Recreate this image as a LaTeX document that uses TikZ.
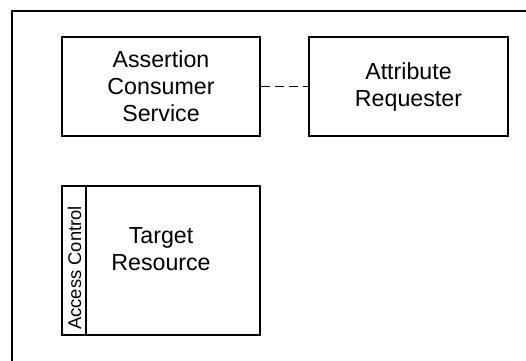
\documentclass[tikz,border=0pt]{standalone}
\usepackage{fontspec}
\setmainfont{Liberation Sans}
\begin{document}
\begin{tikzpicture}[x=0.5pt, y=-0.5pt,
    comp/.style={draw, line width=1pt, align=center, font=\fontsize{11.6}{13.5}\selectfont, inner sep=0pt},
    strip/.style={font=\fontsize{9.2}{11}\selectfont, inner sep=0pt}]
    % Service provider components
    \useasboundingbox (0,0) rectangle (526,360);
    \draw[line width=1pt] (12,361) -- (12,11) -- (527,11);
    \node[comp, minimum width=99pt, minimum height=49.5pt] (acs) at (161,86.5) {Assertion\\Consumer\\Service};
    \node[comp, minimum width=99.5pt, minimum height=49.5pt] (ar) at (408.5,86.5) {Attribute\\Requester};
    \draw[line width=0.8pt, dash pattern=on 4.5pt off 2.5pt] (acs) -- (ar);
    \node[comp, minimum width=99pt, minimum height=74.5pt] (tgt) at (161,260.5) {};
    \draw[line width=1pt] ([xshift=12.5pt]tgt.north west) -- ([xshift=12.5pt]tgt.south west);
    \node[comp, draw=none] (tr) at (161,249) {Target\\Resource};
    \node[strip, rotate=90] (ac) at (74.5,268) {Access Control};
\end{tikzpicture}
\end{document}
